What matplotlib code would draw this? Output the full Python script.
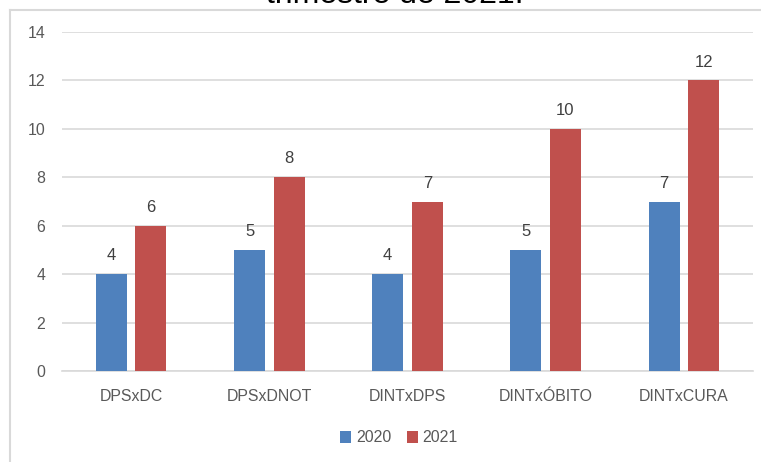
import matplotlib
matplotlib.use("Agg")
import matplotlib.pyplot as plt
import numpy as np

categories = ["DPSxDC", "DPSxDNOT", "DINTxDPS", "DINTxÓBITO", "DINTxCURA"]
values_2020 = [4, 5, 4, 5, 7]
values_2021 = [6, 8, 7, 10, 12]
series_labels = ["2020", "2021"]
title_tail = "trimestre de 2021."

BLUE = "#4F81BD"
RED = "#C0504D"
GRID = "#D9D9D9"
TEXT = "#595959"

plt.rcParams["font.family"] = ["Liberation Sans", "DejaVu Sans"]

fig = plt.figure(figsize=(7.61, 4.62), dpi=100)
W, H = 761, 462

# outer chart frame (top and left edges visible, rest cropped)
fig.add_artist(plt.Line2D([10 / W, 1.0], [1 - 9.5 / H, 1 - 9.5 / H],
                          transform=fig.transFigure, color=GRID, lw=1.5))
fig.add_artist(plt.Line2D([10 / W, 10 / W], [0, 1 - 9.5 / H],
                          transform=fig.transFigure, color=GRID, lw=1.5))

# title, mostly cut off at the top of the image
fig.text(395 / W, 1 - 3 / H, title_tail, ha="center", va="baseline",
         fontsize=23, color="black")

ax = fig.add_axes([62 / W, 1 - 371 / H, (753 - 62) / W, (371 - 32) / H])
x = np.arange(len(categories))
w = 0.224
off = 0.143
b1 = ax.bar(x - off, values_2020, w, color=BLUE, label=series_labels[0], zorder=3)
b2 = ax.bar(x + off, values_2021, w, color=RED, label=series_labels[1], zorder=3)

for bars in (b1, b2):
    for r in bars:
        ax.text(r.get_x() + r.get_width() / 2, r.get_height() + 0.45,
                f"{r.get_height():g}", ha="center", va="bottom",
                fontsize=12, color="#404040")

ax.set_xlim(-0.5, len(categories) - 0.5)
ax.set_ylim(0, 14)
ax.set_yticks(range(0, 15, 2))
ax.set_xticks(x)
ax.set_xticklabels(categories)
ax.yaxis.grid(True, color=GRID, linewidth=1.2, zorder=0)
ax.set_axisbelow(True)
for s in ("top", "right", "left"):
    ax.spines[s].set_visible(False)
ax.spines["bottom"].set_color(GRID)
ax.spines["bottom"].set_linewidth(1.2)
ax.tick_params(axis="both", length=0, labelsize=11.4, colors=TEXT)
ax.tick_params(axis="y", pad=12)
ax.tick_params(axis="x", pad=13)

fig.legend(handles=[b1, b2], labels=series_labels, loc="center",
           bbox_to_anchor=(399 / W, 1 - 438 / H), ncol=2, frameon=False,
           fontsize=11.4, handlelength=0.7, handleheight=0.7,
           handletextpad=0.3, columnspacing=1.0, labelcolor=TEXT)

fig.savefig("out.png", dpi=100)
